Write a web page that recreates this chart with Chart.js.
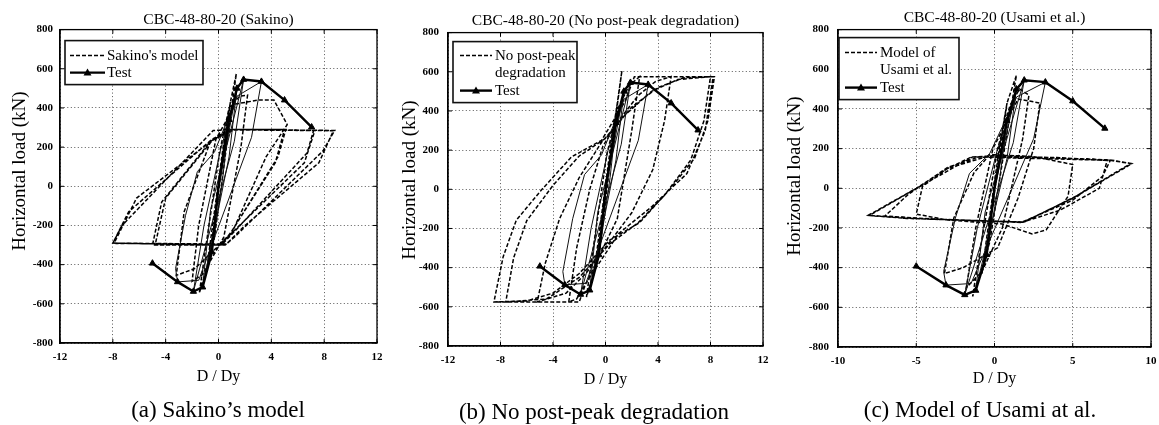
<!DOCTYPE html>
<html>
<head>
<meta charset="utf-8">
<script src="https://cdn.jsdelivr.net/npm/chart.js@4.4.0/dist/chart.umd.min.js"></script>
<style>
html, body { margin: 0; padding: 0; background: #fff; overflow: hidden; }
body { width: 1159px; height: 425px; position: relative; }
canvas { position: absolute; top: 0; }
.caption {
  position: absolute; width: 400px; text-align: center;
  font: 23px/23px 'Liberation Serif', 'Times New Roman', serif; color: #000;
  white-space: nowrap;
}
</style>
</head>
<body>
<canvas id="chartA" width="436" height="425" style="left:0px"></canvas>
<canvas id="chartB" width="416" height="425" style="left:386px"></canvas>
<canvas id="chartC" width="416" height="425" style="left:772px"></canvas>
<div class="caption" style="left:18px; top:398px">(a) Sakino’s model</div>
<div class="caption" style="left:394px; top:400px">(b) No post-peak degradation</div>
<div class="caption" style="left:780px; top:398px">(c) Model of Usami at al.</div>
<script>
// axis ticks
const yTicks = [-800, -600, -400, -200, 0, 200, 400, 600, 800];
const xTicksWide = [-12, -8, -4, 0, 4, 8, 12];
const xTicksUsami = [-10, -5, 0, 5, 10];

// analytical models (D/Dy, kN)
const sakinoModel = [
  [0,0],[0.45,230],[0.9,430],[0.55,250],[-0.4,-230],[-0.9,-430],[-0.55,-250],[0.35,200],
  [0.9,430],[1.35,575],[0.95,380],[-0.3,-260],[-0.9,-420],[-1.45,-545],[-1.05,-350],[0.1,180],
  [0.8,400],[1.6,460],[2.2,465],[1.7,200],[0.4,-260],[-1.2,-450],[-2.0,-485],[-1.5,-200],[-0.2,240],
  [1.3,420],[3.0,440],[4.2,440],[5.2,315],[3.6,150],[1.0,-240],[-1.8,-420],[-3.2,-455],[-2.6,-130],[-0.6,230],
  [1.2,290],[5.0,290],[4.3,120],[0.8,-250],[0,-300],[-5,-300],[-4.3,-80],[-0.6,230],
  [1.0,290],[5.1,290],[4.5,150],[1.0,-230],[0.2,-300],[-4.8,-300],[-4.0,-60],[-0.4,240],
  [1.0,290],[7.3,285],[6.5,120],[0.6,-265],[0,-300],[-8,-290],[-6.8,-130],[-0.5,240],
  [1.0,290],[7.2,285],[6.7,170],[1.5,-210],[0.3,-295],[-8,-290],[-7.3,-200],[-0.4,285],
  [1.0,290],[8.8,285],[7.9,180],[1.2,-260],[0.5,-300],[-7.9,-290],[-6.2,-60],[0.2,270],
  [1.0,288],[8.7,284],[7.6,120],[2.0,-200],[0.6,-295],[-7.8,-292]
];
const noDegradationModel = [
  [0,0],[0.45,230],[0.9,440],[0.55,260],[-0.4,-230],[-0.9,-440],[-0.55,-260],[0.35,200],
  [0.9,440],[1.25,605],[0.8,380],[-0.4,-280],[-1.0,-450],[-1.45,-550],[-1.0,-330],[0.1,180],
  [1.0,420],[1.8,530],[2.6,575],[2.0,300],[0.9,-150],[-0.4,-330],[-1.4,-470],[-2.2,-560],[-2.8,-575],[-2.2,-300],[-1.2,0],[-0.2,220],
  [1.0,350],[2.5,480],[3.8,550],[5.0,575],[4.5,350],[3.6,100],[2.0,-120],[0.2,-280],[-1.5,-430],[-3.0,-530],[-5.2,-575],[-4.6,-380],[-3.5,-150],[-2.0,60],[-0.3,240],
  [1.5,380],[3.5,500],[5.5,560],[8.0,575],[7.5,350],[6.5,150],[4.5,-30],[2.5,-170],[0.3,-280],[-2.0,-450],[-4.5,-560],[-7.6,-575],[-7.0,-350],[-6.0,-160],[-4.0,20],[-2.0,170],[0,260],
  [2.0,420],[4.0,520],[6.0,570],[8.3,575],[7.8,350],[6.8,160],[4.9,0],[2.6,-170],[0.3,-260],[-2.0,-430],[-4.0,-530],[-6.0,-570],[-8.5,-575],[-7.8,-345],[-6.8,-158],[-4.9,-5],[-2.6,165],[-0.3,250],
  [1.5,450],[2.2,575],[8.2,575],[7.6,300],[6.2,80],[3.5,-90],[1.0,-226],[-1.5,-480],[-2.0,-575],[-8.4,-575]
];
const usamiModel = [
  [0,0],[0.4,230],[0.8,430],[0.5,250],[-0.4,-230],[-0.8,-430],[-0.5,-250],[0.3,200],
  [0.8,430],[1.4,570],[0.9,330],[-0.3,-270],[-0.9,-430],[-1.4,-545],[-0.9,-300],[0.2,200],
  [1.0,420],[1.6,500],[2.2,470],[1.8,250],[0.5,-200],[-0.8,-420],[-1.8,-500],[-1.2,-200],[-0.1,200],
  [1.5,450],[2.9,430],[2.5,200],[1.5,-50],[0.2,-300],[-2.0,-400],[-3.2,-430],[-2.6,-150],[-1.3,80],[-0.3,170],
  [2.5,160],[5.0,120],[4.7,-40],[3.3,-210],[2.4,-230],[0.5,-180],[-3.0,-160],[-5.0,-130],[-4.6,10],[-3.0,100],[-0.5,160],
  [4.0,155],[7.2,140],[6.7,0],[4.2,-110],[1.8,-171],[-4.0,-155],[-7.0,-140],[-5.5,-30],[-3.0,105],[-1.0,158],
  [3.0,155],[7.4,141],[8.77,124],[5.0,-50],[1.83,-171],[-5.5,-150],[-8.06,-136],[-5.0,0],[-3.0,100],[-1.5,157],[0.2,165],
  [7.5,142],[8.7,125],[5.2,-40],[1.9,-170],[-5.6,-152],[-8.0,-137],[-5.2,-10],[-1.4,158],[7.4,141],
  [6.9,60],[5.0,-60],[1.7,-172],[-6.0,-150]
];

// test (same specimen in all three panels)
const testLoops = [
  [0,0],[0.8,340],[0.35,60],[-0.5,-335],[-0.1,-40],[1.4,500],[0.8,150],[-1.2,-512],[-0.6,-120],
  [1.9,545],[1.2,230],[-1.9,-537],[-1.1,-200],[0.2,200],[1.4,460],[3.25,535],[2.5,250],[-1.5,-480],
  [-3.1,-488],[-3.25,-420],[-2.5,-150],[-1.6,75],[-0.3,176],[1.4,460]
];
const testEnvelope = [
  [-5,-393],[-3.1,-488],[-1.9,-537],[-1.2,-515],[-0.5,-335],[0,0],[0.8,340],
  [1.4,500],[1.9,545],[3.25,535],[5,440],[7.05,302]
];

const serif = "'Liberation Serif', 'Times New Roman', serif";
const pts = arr => arr.map(p => ({ x: p[0], y: p[1] }));

// closed box around the plot with inward ticks
const frame = {
  id: 'frame',
  afterDatasetsDraw(chart) {
    const { ctx, chartArea: a, scales } = chart;
    ctx.save();
    ctx.strokeStyle = '#000';
    ctx.lineWidth = 1.3;
    ctx.strokeRect(a.left, a.top, a.width, a.height);
    ctx.lineWidth = 1;
    ctx.beginPath();
    scales.x.ticks.forEach(t => {
      const x = scales.x.getPixelForValue(t.value);
      ctx.moveTo(x, a.bottom); ctx.lineTo(x, a.bottom - 4);
      ctx.moveTo(x, a.top); ctx.lineTo(x, a.top + 4);
    });
    scales.y.ticks.forEach(t => {
      const y = scales.y.getPixelForValue(t.value);
      ctx.moveTo(a.left, y); ctx.lineTo(a.left + 4, y);
      ctx.moveTo(a.right, y); ctx.lineTo(a.right - 4, y);
    });
    ctx.stroke();
    ctx.restore();
  }
};

// vertical axis label, sits a bit above the plot centre like the original
function yLabel(x, y) {
  return {
    id: 'yLabel',
    afterDraw(chart) {
      const ctx = chart.ctx;
      ctx.save();
      ctx.translate(x, y);
      ctx.rotate(-Math.PI / 2);
      ctx.font = '19px ' + serif;
      ctx.fillStyle = '#000';
      ctx.textAlign = 'center';
      ctx.textBaseline = 'middle';
      ctx.fillText('Horizontal load (kN)', 0, 0);
      ctx.restore();
    }
  };
}

// legend box drawn inside the plot
function boxLegend(L) {
  return {
    id: 'boxLegend',
    afterDraw(chart) {
      const { ctx, chartArea: a } = chart;
      const x0 = a.left + L.dx, y0 = a.top + L.dy;
      ctx.save();
      ctx.fillStyle = '#fff';
      ctx.fillRect(x0, y0, L.w, L.h);
      ctx.strokeStyle = '#111';
      ctx.lineWidth = 1.6;
      ctx.strokeRect(x0, y0, L.w, L.h);
      ctx.font = '15px ' + serif;
      ctx.textBaseline = 'middle';
      ctx.fillStyle = '#000';
      let y = y0 + L.first;
      L.items.forEach(item => {
        ctx.strokeStyle = '#000';
        ctx.lineWidth = item.width;
        ctx.setLineDash(item.dash);
        ctx.beginPath();
        ctx.moveTo(x0 + L.s1, y); ctx.lineTo(x0 + L.s2, y);
        ctx.stroke();
        ctx.setLineDash([]);
        if (item.marker) {
          const cx = x0 + (L.s1 + L.s2) / 2;
          ctx.beginPath();
          ctx.moveTo(cx, y - 4); ctx.lineTo(cx + 4, y + 3); ctx.lineTo(cx - 4, y + 3);
          ctx.closePath(); ctx.fill();
        }
        item.lines.forEach((t, i) => ctx.fillText(t, x0 + L.tx, y + i * L.row));
        y += item.lines.length * L.row;
      });
      ctx.restore();
    }
  };
}

const dashed = [4, 2];

function makePanel(id, p) {
  const xt = p.xTicks;
  return new Chart(document.getElementById(id), {
    type: 'scatter',
    data: {
      datasets: [
        {
          label: 'Test', data: pts(testEnvelope), showLine: true,
          borderColor: '#000', borderWidth: 2.4, backgroundColor: '#000',
          pointStyle: 'triangle', pointBorderWidth: 1,
          pointRadius: ctx => (ctx.raw && ctx.raw.x === 0 ? 0 : 3.6)
        },
        {
          label: 'Test loops', data: pts(testLoops), showLine: true,
          borderColor: '#111', borderWidth: 1, pointRadius: 0
        },
        {
          label: p.modelLines.join(' '), data: pts(p.model), showLine: true,
          borderColor: '#000', borderWidth: 1.5, borderDash: dashed, pointRadius: 0
        }
      ]
    },
    options: {
      responsive: false,
      animation: false,
      layout: { padding: { left: 0, right: p.padRight, top: 0, bottom: p.padBottom } },
      scales: {
        x: {
          type: 'linear', min: xt[0], max: xt[xt.length - 1],
          afterBuildTicks: s => { s.ticks = xt.map(v => ({ value: v })); },
          afterFit: s => { s.height = p.xAxisHeight; },
          grid: { color: '#444', lineWidth: 0.9, drawTicks: false },
          border: { display: true, color: '#000', width: 1.3, dash: [1, 2.5] },
          ticks: { color: '#000', font: { family: serif, size: 11, weight: 'bold' }, padding: 8, maxRotation: 0 },
          title: { display: true, text: 'D / Dy', color: '#000', font: { family: serif, size: 16 }, padding: { top: 0, bottom: p.xTitlePad } }
        },
        y: {
          type: 'linear', min: -800, max: 800,
          afterBuildTicks: s => { s.ticks = yTicks.map(v => ({ value: v })); },
          afterFit: s => { s.width = p.yAxisWidth; },
          grid: { color: '#444', lineWidth: 0.9, drawTicks: false },
          border: { display: true, color: '#000', width: 1.3, dash: [1, 2.5] },
          ticks: { color: '#000', font: { family: serif, size: 11, weight: 'bold' }, padding: p.yTickPad },
          title: { display: false }
        }
      },
      plugins: {
        legend: { display: false },
        tooltip: { enabled: false },
        title: {
          display: true, text: p.title, fullSize: false, color: '#000',
          font: { family: serif, size: 15.5, weight: 'normal' },
          padding: { top: p.titleTop, bottom: p.titleBottom }
        }
      }
    },
    plugins: [frame, yLabel(p.yLabelX, p.yLabelY), boxLegend(p.legend)]
  });
}

makePanel('chartA', {
  model: sakinoModel, modelLines: ["Sakino's model"], xTicks: xTicksWide,
  title: 'CBC-48-80-20 (Sakino)',
  padRight: 59, padBottom: 27, yAxisWidth: 60, xAxisHeight: 55, xTitlePad: 12, yTickPad: 7,
  yLabelX: 20, yLabelY: 171, titleTop: 11, titleBottom: 0,
  legend: { dx: 5, dy: 11, w: 138, h: 44, first: 15, row: 17, s1: 5, s2: 40, tx: 42,
    items: [{ lines: ["Sakino's model"], dash: dashed, width: 1.5 }, { lines: ['Test'], dash: [], width: 2.4, marker: true }] }
});

makePanel('chartB', {
  model: noDegradationModel, modelLines: ['No post-peak', 'degradation'], xTicks: xTicksWide,
  title: 'CBC-48-80-20 (No post-peak degradation)',
  padRight: 39, padBottom: 25, yAxisWidth: 62, xAxisHeight: 54, xTitlePad: 11, yTickPad: 9,
  yLabelX: 24, yLabelY: 180, titleTop: 12, titleBottom: 2,
  legend: { dx: 5, dy: 9, w: 124, h: 61, first: 14, row: 17.5, s1: 7, s2: 39, tx: 42,
    items: [{ lines: ['No post-peak', 'degradation'], dash: dashed, width: 1.5 }, { lines: ['Test'], dash: [], width: 2.4, marker: true }] }
});

makePanel('chartC', {
  model: usamiModel, modelLines: ['Model of', 'Usami et al.'], xTicks: xTicksUsami,
  title: 'CBC-48-80-20 (Usami et al.)',
  padRight: 37, padBottom: 27, yAxisWidth: 66, xAxisHeight: 51, xTitlePad: 10, yTickPad: 9,
  yLabelX: 23, yLabelY: 176, titleTop: 9, titleBottom: 2,
  legend: { dx: 1, dy: 8, w: 120, h: 62, first: 15, row: 17.5, s1: 6, s2: 38, tx: 41,
    items: [{ lines: ['Model of', 'Usami et al.'], dash: dashed, width: 1.5 }, { lines: ['Test'], dash: [], width: 2.4, marker: true }] }
});
</script>
</body>
</html>
